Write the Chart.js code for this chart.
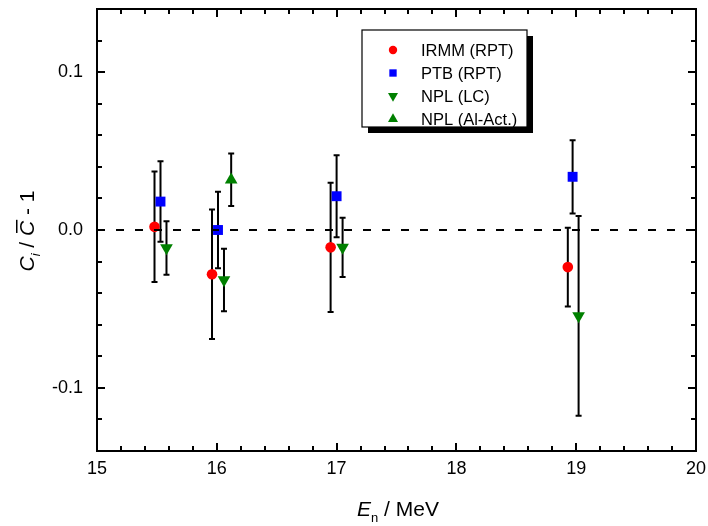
<!DOCTYPE html>
<html>
<head>
<meta charset="utf-8">
<script src="https://cdn.jsdelivr.net/npm/chart.js@4/dist/chart.umd.min.js"></script>
<style>
  html, body { margin: 0; padding: 0; background: #fff; }
  #wrap { width: 708px; height: 526px; }
</style>
</head>
<body>
<div id="wrap"><canvas id="chart" width="708" height="526"></canvas></div>
<script>
// ---- Data ----
// Deviation of each lab's value from the mean, with 1-sigma uncertainties
const irmmE = [15.48, 15.96, 16.95, 18.93];
const irmmVal = [0.002, -0.028, -0.011, -0.0235];
const irmmErr = [0.035, 0.041, 0.041, 0.025];

const ptbE = [15.53, 16.01, 17.0, 18.97];
const ptbVal = [0.018, 0.0, 0.0214, 0.0337];
const ptbErr = [0.0255, 0.0243, 0.026, 0.0232];

const nplLcE = [15.58, 16.06, 17.05, 19.02];
const nplLcVal = [-0.0114, -0.0316, -0.011, -0.0544];
const nplLcErr = [0.0169, 0.0198, 0.0188, 0.0632];

const nplAlE = [16.12];
const nplAlVal = [0.0318];
const nplAlErr = [0.0166];

const xTicks = [15, 16, 17, 18, 19, 20];
const yTicks = [-0.1, 0.0, 0.1];

const FONT = "'Liberation Sans', Arial, sans-serif";

function toPoints(xs, ys) {
  return xs.map((x, i) => ({ x: x, y: ys[i] }));
}

// ---- Plugins ----

// vertical error bars with small caps, under the markers
const errorBars = {
  id: "errorBars",
  beforeDatasetsDraw(chart) {
    const ctx = chart.ctx;
    const xs = chart.scales.x, ys = chart.scales.y;
    ctx.save();
    ctx.strokeStyle = "#000";
    ctx.lineWidth = 2;
    chart.data.datasets.forEach(ds => {
      ds.data.forEach((p, i) => {
        const e = ds.errors[i];
        const px = xs.getPixelForValue(p.x);
        const top = ys.getPixelForValue(p.y + e);
        const bot = ys.getPixelForValue(p.y - e);
        ctx.beginPath();
        ctx.moveTo(px, top);
        ctx.lineTo(px, bot);
        ctx.moveTo(px - 3, top);
        ctx.lineTo(px + 3, top);
        ctx.moveTo(px - 3, bot);
        ctx.lineTo(px + 3, bot);
        ctx.stroke();
      });
    });
    ctx.restore();
  }
};

// frame, inward ticks on all sides, dashed zero line, legend, axis titles
const decorations = {
  id: "decorations",
  afterDatasetsDraw(chart) {
    const ctx = chart.ctx;
    const a = chart.chartArea;
    const xs = chart.scales.x, ys = chart.scales.y;

    ctx.save();
    ctx.strokeStyle = "#000";

    // zero line
    ctx.lineWidth = 2;
    ctx.setLineDash([8, 11]);
    ctx.beginPath();
    const y0 = ys.getPixelForValue(0);
    ctx.moveTo(a.left, y0);
    ctx.lineTo(a.right, y0);
    ctx.stroke();
    ctx.setLineDash([]);

    // frame
    ctx.strokeRect(a.left, a.top, a.right - a.left, a.bottom - a.top);

    // x ticks (major every 1, minor every 0.2)
    ctx.beginPath();
    for (let k = 0; k <= 25; k++) {
      const v = 15 + k * 0.2;
      const px = Math.round(xs.getPixelForValue(v));
      const len = k % 5 === 0 ? 8 : 5;
      ctx.moveTo(px, a.bottom); ctx.lineTo(px, a.bottom - len);
      ctx.moveTo(px, a.top); ctx.lineTo(px, a.top + len);
    }
    // y ticks (major every 0.1, minor every 0.02)
    for (let k = -7; k <= 7; k++) {
      const py = Math.round(ys.getPixelForValue(k * 0.02));
      const len = k % 5 === 0 ? 8 : 5;
      ctx.moveTo(a.left, py); ctx.lineTo(a.left + len, py);
      ctx.moveTo(a.right, py); ctx.lineTo(a.right - len, py);
    }
    ctx.stroke();

    // legend box with drop shadow
    const lx = 362, ly = 30, lw = 165, lh = 97;
    ctx.fillStyle = "#000";
    ctx.fillRect(lx + 6, ly + 6, lw, lh);
    ctx.fillStyle = "#fff";
    ctx.fillRect(lx, ly, lw, lh);
    ctx.lineWidth = 1.2;
    ctx.strokeRect(lx, ly, lw, lh);

    const rowY = [50, 73, 96, 119];
    ctx.font = "16.5px " + FONT;
    ctx.textBaseline = "middle";
    ctx.textAlign = "left";
    chart.data.datasets.forEach((ds, i) => {
      ctx.fillStyle = ds.backgroundColor;
      Chart.helpers.drawPoint(ctx, {
        pointStyle: ds.pointStyle,
        radius: ds.legendRadius,
        rotation: ds.rotation || 0,
        borderWidth: 0
      }, 393, rowY[i]);
      ctx.fillStyle = "#000";
      ctx.fillText(ds.label, 421, rowY[i] + 1);
    });

    ctx.restore();
  },
  afterDraw(chart) {
    const ctx = chart.ctx;
    ctx.save();
    ctx.fillStyle = "#000";
    ctx.textBaseline = "alphabetic";
    ctx.textAlign = "left";

    // x title: E_n / MeV
    const big = "21px " + FONT, ital = "italic 21px " + FONT, sub = "13px " + FONT;
    const xParts = [
      { t: "E", f: ital, dy: 0 },
      { t: "n", f: sub, dy: 6 },
      { t: " / MeV", f: big, dy: 0 }
    ];
    drawParts(ctx, xParts, 398, 516);

    // y title: C_i / C-bar - 1 (rotated)
    ctx.translate(34, 231);
    ctx.rotate(-Math.PI / 2);
    const yParts = [
      { t: "C", f: ital, dy: 0 },
      { t: "i", f: "italic 13px " + FONT, dy: 6 },
      { t: " / ", f: big, dy: 0 },
      { t: "C", f: ital, dy: 0, bar: true },
      { t: " - 1", f: big, dy: 0 }
    ];
    drawParts(ctx, yParts, 0, 0);
    ctx.restore();
  }
};

// lays out a run of mixed-style text centred on cx
function drawParts(ctx, parts, cx, baseY) {
  let total = 0;
  parts.forEach(p => { ctx.font = p.f; p.w = ctx.measureText(p.t).width; total += p.w; });
  let x = cx - total / 2;
  parts.forEach(p => {
    ctx.font = p.f;
    ctx.fillText(p.t, x, baseY + p.dy);
    if (p.bar) {
      ctx.fillRect(x + 3, baseY - 18, p.w - 2, 1.5);
    }
    x += p.w;
  });
}

// ---- Chart ----
const chart = new Chart(document.getElementById("chart"), {
  type: "scatter",
  data: {
    datasets: [
      {
        label: "IRMM (RPT)",
        data: toPoints(irmmE, irmmVal),
        errors: irmmErr,
        pointStyle: "circle",
        pointRadius: 5.3,
        legendRadius: 4.2,
        backgroundColor: "#ff0000",
        borderWidth: 0
      },
      {
        label: "PTB (RPT)",
        data: toPoints(ptbE, ptbVal),
        errors: ptbErr,
        pointStyle: "rect",
        pointRadius: 7,
        legendRadius: 5.2,
        backgroundColor: "#0000ff",
        borderWidth: 0
      },
      {
        label: "NPL (LC)",
        data: toPoints(nplLcE, nplLcVal),
        errors: nplLcErr,
        pointStyle: "triangle",
        rotation: 180,
        pointRotation: 180,
        pointRadius: 7.3,
        legendRadius: 5.8,
        backgroundColor: "#008000",
        borderWidth: 0
      },
      {
        label: "NPL (Al-Act.)",
        data: toPoints(nplAlE, nplAlVal),
        errors: nplAlErr,
        pointStyle: "triangle",
        pointRadius: 7.3,
        legendRadius: 5.8,
        backgroundColor: "#008000",
        borderWidth: 0
      }
    ]
  },
  options: {
    responsive: false,
    animation: false,
    events: [],
    devicePixelRatio: 1,
    layout: { padding: { top: 9, right: 12, left: 0, bottom: 0 } },
    plugins: {
      legend: { display: false },
      tooltip: { enabled: false }
    },
    scales: {
      x: {
        type: "linear",
        min: 15,
        max: 20,
        afterBuildTicks: s => { s.ticks = xTicks.map(v => ({ value: v })); },
        afterFit: s => { s.height = 75; s.paddingLeft = 0; s.paddingRight = 0; },
        ticks: {
          color: "#000",
          padding: 7,
          font: { family: FONT, size: 18 },
          callback: v => String(v)
        },
        grid: { display: false, drawTicks: false },
        border: { display: false }
      },
      y: {
        type: "linear",
        min: -0.14,
        max: 0.14,
        afterBuildTicks: s => { s.ticks = yTicks.map(v => ({ value: v })); },
        afterFit: s => { s.width = 97; s.paddingTop = 0; s.paddingBottom = 0; },
        ticks: {
          color: "#000",
          padding: 14,
          font: { family: FONT, size: 18 },
          callback: v => v.toFixed(1)
        },
        grid: { display: false, drawTicks: false },
        border: { display: false }
      }
    }
  },
  plugins: [errorBars, decorations]
});
</script>
</body>
</html>
